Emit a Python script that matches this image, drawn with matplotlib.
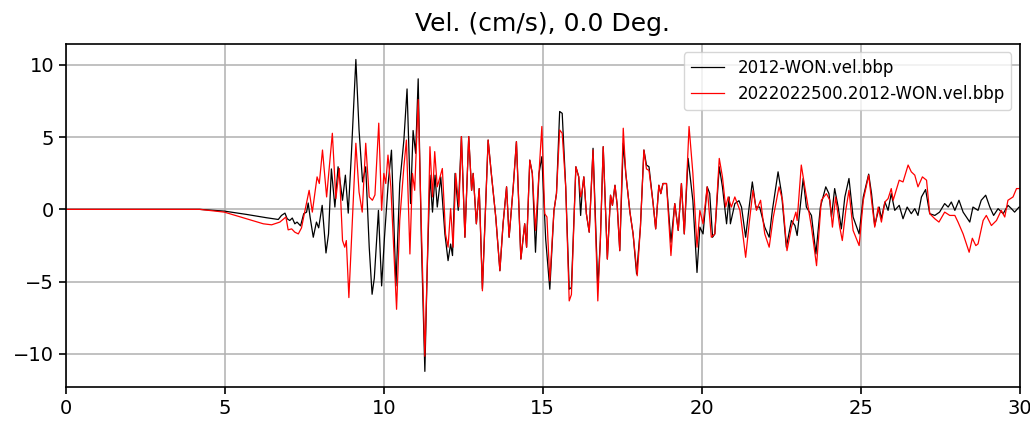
import matplotlib
matplotlib.use("Agg")
import matplotlib.pyplot as plt

# Velocity traces (time in s, velocity in cm/s)
obs_t = [0.0, 4.21, 4.98, 5.68, 6.31, 6.68, 6.78, 6.89, 6.96, 7.04, 7.12, 7.2, 7.27, 7.38,
         7.48, 7.57, 7.62, 7.68, 7.78, 7.88, 7.95, 8.06, 8.18, 8.26, 8.35,
         8.46, 8.56, 8.62, 8.7, 8.79, 8.88, 8.98, 9.12, 9.22, 9.33, 9.43, 9.54, 9.63, 9.7,
         9.83, 9.93, 10.02, 10.14, 10.24, 10.38, 10.5, 10.63, 10.73, 10.84, 10.92, 11.0,
         11.08, 11.18, 11.29, 11.36, 11.45, 11.53, 11.61, 11.68, 11.79, 11.92, 12.02,
         12.1, 12.16, 12.24, 12.34, 12.44, 12.55, 12.67, 12.76, 12.81, 12.91, 13.0, 13.1,
         13.28, 13.38, 13.52, 13.65, 13.75, 13.86, 13.94, 14.07, 14.17, 14.31, 14.43,
         14.49, 14.59, 14.67, 14.77, 14.88, 14.97, 15.09, 15.22, 15.35, 15.43, 15.53,
         15.61, 15.72, 15.83, 15.9, 16.04, 16.13, 16.19, 16.24, 16.29, 16.37, 16.46,
         16.58, 16.73, 16.81, 16.9, 17.03, 17.13, 17.19, 17.27, 17.34, 17.42, 17.53,
         17.61, 17.74, 17.84, 17.95, 18.07, 18.18, 18.26, 18.34, 18.47, 18.55, 18.65,
         18.71, 18.78, 18.89, 19.03, 19.15, 19.26, 19.36, 19.45, 19.57, 19.72, 19.85,
         19.94, 20.04, 20.17, 20.25, 20.34, 20.41, 20.55, 20.65, 20.78, 20.86, 20.9,
         21.04, 21.17, 21.25, 21.38, 21.49, 21.59, 21.7, 21.82, 21.98, 22.12, 22.22,
         22.4, 22.51, 22.66, 22.82, 22.93, 23.0, 23.19, 23.29, 23.45, 23.59, 23.73,
         23.9, 24.0, 24.08, 24.18, 24.29, 24.39, 24.5, 24.63, 24.76, 24.95, 25.08,
         25.25, 25.34, 25.44, 25.58, 25.65, 25.76, 25.86, 25.96, 26.07, 26.21, 26.33,
         26.46, 26.59, 26.7, 26.8, 26.91, 27.04, 27.17, 27.33, 27.48, 27.64, 27.75,
         27.85, 27.96, 28.09, 28.22, 28.43, 28.53, 28.69, 28.79, 28.93, 29.06, 29.18,
         29.32, 29.48, 29.63, 29.74, 29.84, 29.98, 30.0]
obs_v = [0.0, 0.0, -0.12, -0.35, -0.58, -0.7, -0.42, -0.26, -0.65, -0.77, -0.6, -1.0, -0.88, -1.14,
         -0.3, -0.19, 0.44, -0.53, -1.93, -0.88, -1.28, 0.28, -3.02, -1.7, 2.8,
         0.16, 2.95, 2.0, 0.63, 2.37, -0.26, 3.88, 10.38, 5.5, 1.9, 2.95, -2.62, -5.88, -4.76,
         -0.07, -5.3, -1.93, 1.9, 4.1, -5.3, 1.79, 4.8, 8.34, 0.4, 5.46, 3.88,
         9.04, -2.16, -11.22, -4.48, 2.37, -0.19, 2.37, 0.16, 2.25, -1.7, -3.55,
         -2.4, -3.2, 2.49, -0.07, 5.04, -1.93, 5.04, 1.32, 2.49, -1.0, 1.44, -5.5,
         4.8, 2.49, -0.53, -4.25, -1.0, 1.56, -1.93, 1.56, 4.69, -3.44, -1.0,
         -2.62, 3.41, 2.49, -2.97, 2.49, 3.65, -2.05, -5.53, -0.1, 1.1, 6.78,
         6.65, 1.56, -5.53, -5.41, 2.95, 2.25, -0.42, 1.32, 2.25, -0.3, -1.58,
         4.23, -5.41, -2.16, 4.34, -3.44, 0.98, 0.28, 1.67, 0.28, -2.86, 4.58,
         2.49, -0.19, -1.7, -4.48, -1.23, 4.11, 3.07, 2.95, 0.4, -1.35, 1.67,
         1.09, 1.79, 1.79, -2.28, 0.4, -1.46, 1.79, -1.7, 3.53, 0.6, -4.37,
         -1.23, -1.7, 1.56, 1.1, -1.93, -1.7, 2.95, 1.56, -1.0, 0.86, -1.0,
         0.4, 0.6, 0.16, -1.93, 0.16, 1.9, 0.16, 0.16, -1.23, -1.93, -0.07,
         2.6, 1.09, -2.62, -0.77, -1.12, -1.81, 2.14, 0.16, -0.42, -3.09, 0.16,
         1.56, 1.09, -0.53, 1.44, 0.16, -1.35, 0.86, 2.14, -0.53, -1.7, 0.86,
         2.44, 1.09, -1.12, 0.16, -0.65, 0.51, -0.07, 1.09, -0.07, 0.28, -0.65,
         0.16, -0.3, 0.05, -0.42, 0.86, 1.37, -0.3, -0.42, -0.19, 0.4, 0.16,
         0.51, -0.07, 0.63, -0.19, -0.88, 0.16, -0.07, 0.63, 0.98, 0.16, -0.42,
         0.05, -0.3, 0.28, 0.05, -0.19, 0.16, 0.16]

sim_t = [0.0, 4.21, 4.98, 5.68, 6.21, 6.47, 6.73, 6.92, 6.99, 7.1, 7.2, 7.31, 7.41, 7.52,
         7.65, 7.75, 7.9, 7.97, 8.07, 8.2, 8.38,
         8.49, 8.6, 8.7, 8.77, 8.82, 8.9, 8.98, 9.12, 9.22, 9.32, 9.43, 9.54, 9.64, 9.72,
         9.84, 9.93, 10.0, 10.06, 10.13, 10.22, 10.4, 10.5, 10.63, 10.71, 10.82, 10.9,
         10.97, 11.08, 11.18, 11.29, 11.36, 11.45, 11.53, 11.6, 11.68, 11.84, 11.94,
         12.02, 12.1, 12.18, 12.26, 12.36, 12.44, 12.55, 12.67, 12.76, 12.81, 12.91,
         13.0, 13.1, 13.28, 13.38, 13.52, 13.65, 13.75, 13.86, 13.94, 14.07, 14.17,
         14.31, 14.43, 14.49, 14.59, 14.67, 14.77, 14.88, 14.97, 15.06, 15.13, 15.22,
         15.35, 15.43, 15.53, 15.61, 15.72, 15.83, 15.9, 16.04, 16.13, 16.19, 16.24,
         16.29, 16.37, 16.46, 16.58, 16.73, 16.81, 16.9, 17.03, 17.13, 17.19, 17.27,
         17.34, 17.42, 17.53, 17.61, 17.74, 17.84, 17.97, 18.07, 18.18, 18.26, 18.34,
         18.47, 18.55, 18.65, 18.71, 18.78, 18.89, 19.03, 19.15, 19.26, 19.36, 19.45,
         19.6, 19.72, 19.85, 19.94, 20.04, 20.17, 20.3, 20.41, 20.55, 20.65, 20.75,
         20.83, 20.93, 21.04, 21.2, 21.38, 21.49, 21.61, 21.72, 21.85, 21.98, 22.12,
         22.25, 22.43, 22.54, 22.68, 22.82, 22.96, 23.0, 23.13, 23.24, 23.45, 23.61,
         23.76, 23.92, 24.03, 24.11, 24.21, 24.34, 24.42, 24.53, 24.63, 24.76, 24.95,
         25.08, 25.25, 25.34, 25.44, 25.55, 25.65, 25.76, 25.86, 25.96, 26.02, 26.21,
         26.33, 26.49, 26.59, 26.7, 26.8, 26.94, 27.07, 27.17, 27.33, 27.46, 27.64,
         27.8, 27.96, 28.06, 28.22, 28.41, 28.51, 28.62, 28.69, 28.85, 28.95, 29.11,
         29.27, 29.42, 29.53, 29.63, 29.79, 29.9, 30.0]
sim_v = [0.0, 0.0, -0.19, -0.65, -1.0, -1.07, -0.88, -0.53, -1.42, -1.35, -1.58, -1.7, -1.28, -0.07,
         1.32, -0.19, 2.25, 1.79, 4.11, 0.86, 5.27,
         0.74, 2.83, -2.16, -2.62, -2.16, -6.11, -2.16, 4.58, 1.2, -0.19, 4.58, 0.86, 0.63, 1.0,
         5.97, -0.07, 2.49, 1.79, 3.76, 1.56, -6.92, -0.77, 2.95, 4.8, -3.09, 2.49,
         1.32, 7.6, -1.23, -10.17, -4.48, 4.34, 0.86, 4.0, 1.56, 2.83, -1.7,
         -2.62, 0.05, -2.62, 2.49, 0.16, 5.04, -1.93, 5.04, 1.32, 2.49, -1.0,
         1.44, -5.64, 4.8, 2.49, -0.53, -4.25, -1.0, 1.56, -1.93, 1.56, 4.69,
         -3.44, -1.0, -2.62, 3.41, 2.49, -1.46, 2.49, 5.74, -0.3, -0.53, -4.95,
         -0.1, 1.1, 5.5, 5.27, 1.56, -6.34, -5.9, 2.95, 2.25, 0.86, 1.32,
         2.25, -0.3, -1.58, 4.11, -6.34, -2.16, 4.34, -3.44, 0.98, 0.28, 1.67,
         0.28, -2.86, 5.62, 2.49, -0.19, -1.7, -4.6, -1.23, 4.11, 2.8, 2.7,
         0.4, -1.35, 1.67, 1.09, 1.79, 1.79, -3.2, 0.4, -1.46, 1.79, -1.7,
         5.74, 2.5, -2.62, -0.07, -1.0, 1.56, -1.93, -1.7, 3.53, 2.25, 0.16,
         0.86, 0.16, 0.86, -0.07, -3.32, -1.0, 1.32, -0.07, 0.63, -1.69, -2.62,
         -0.53, 1.56, 0.63, -2.86, -1.23, -0.19, -0.77, 3.07, 1.56, -1.23, -3.9,
         0.63, 1.09, 0.63, -1.23, 0.86, -1.23, -2.16, -0.07, 1.32, -1.46, -2.51,
         0.63, 2.37, 0.63, -1.23, 0.16, -0.88, 0.51, 0.74, 1.44, 0.63, 2.02,
         1.9, 3.07, 2.6, 2.37, 1.56, 2.25, 2.02, -0.3, -0.65, -0.88, -0.19,
         -0.42, -0.42, -0.88, -1.7, -2.97, -2.0, -2.51, -2.39, -0.77, -0.42, -1.12,
         -0.77, -0.07, -0.53, 0.63, 0.86, 1.44, 1.44]

labels = ["2012-WON.vel.bbp", "2022022500.2012-WON.vel.bbp"]
colors = ["black", "red"]

fig = plt.figure(figsize=(10.3, 4.22), dpi=100)
ax = fig.add_axes([0.064, 0.083, 0.926, 0.813])
ax.plot(obs_t, obs_v, color=colors[0], lw=0.9, label=labels[0])
ax.plot(sim_t, sim_v, color=colors[1], lw=0.9, label=labels[1])
ax.set_xlim(0, 30)
ax.grid(True, color="#b0b0b0", lw=1.1)
ax.set_axisbelow(True)
for side in ax.spines.values():
    side.set_linewidth(1.2)
ax.tick_params(labelsize=14, width=1.2, length=5)
ax.set_title("Vel. (cm/s), 0.0 Deg.", fontsize=18, pad=9)
ax.legend(loc="upper right", fontsize=12)
fig.savefig("out.png", dpi=100)
